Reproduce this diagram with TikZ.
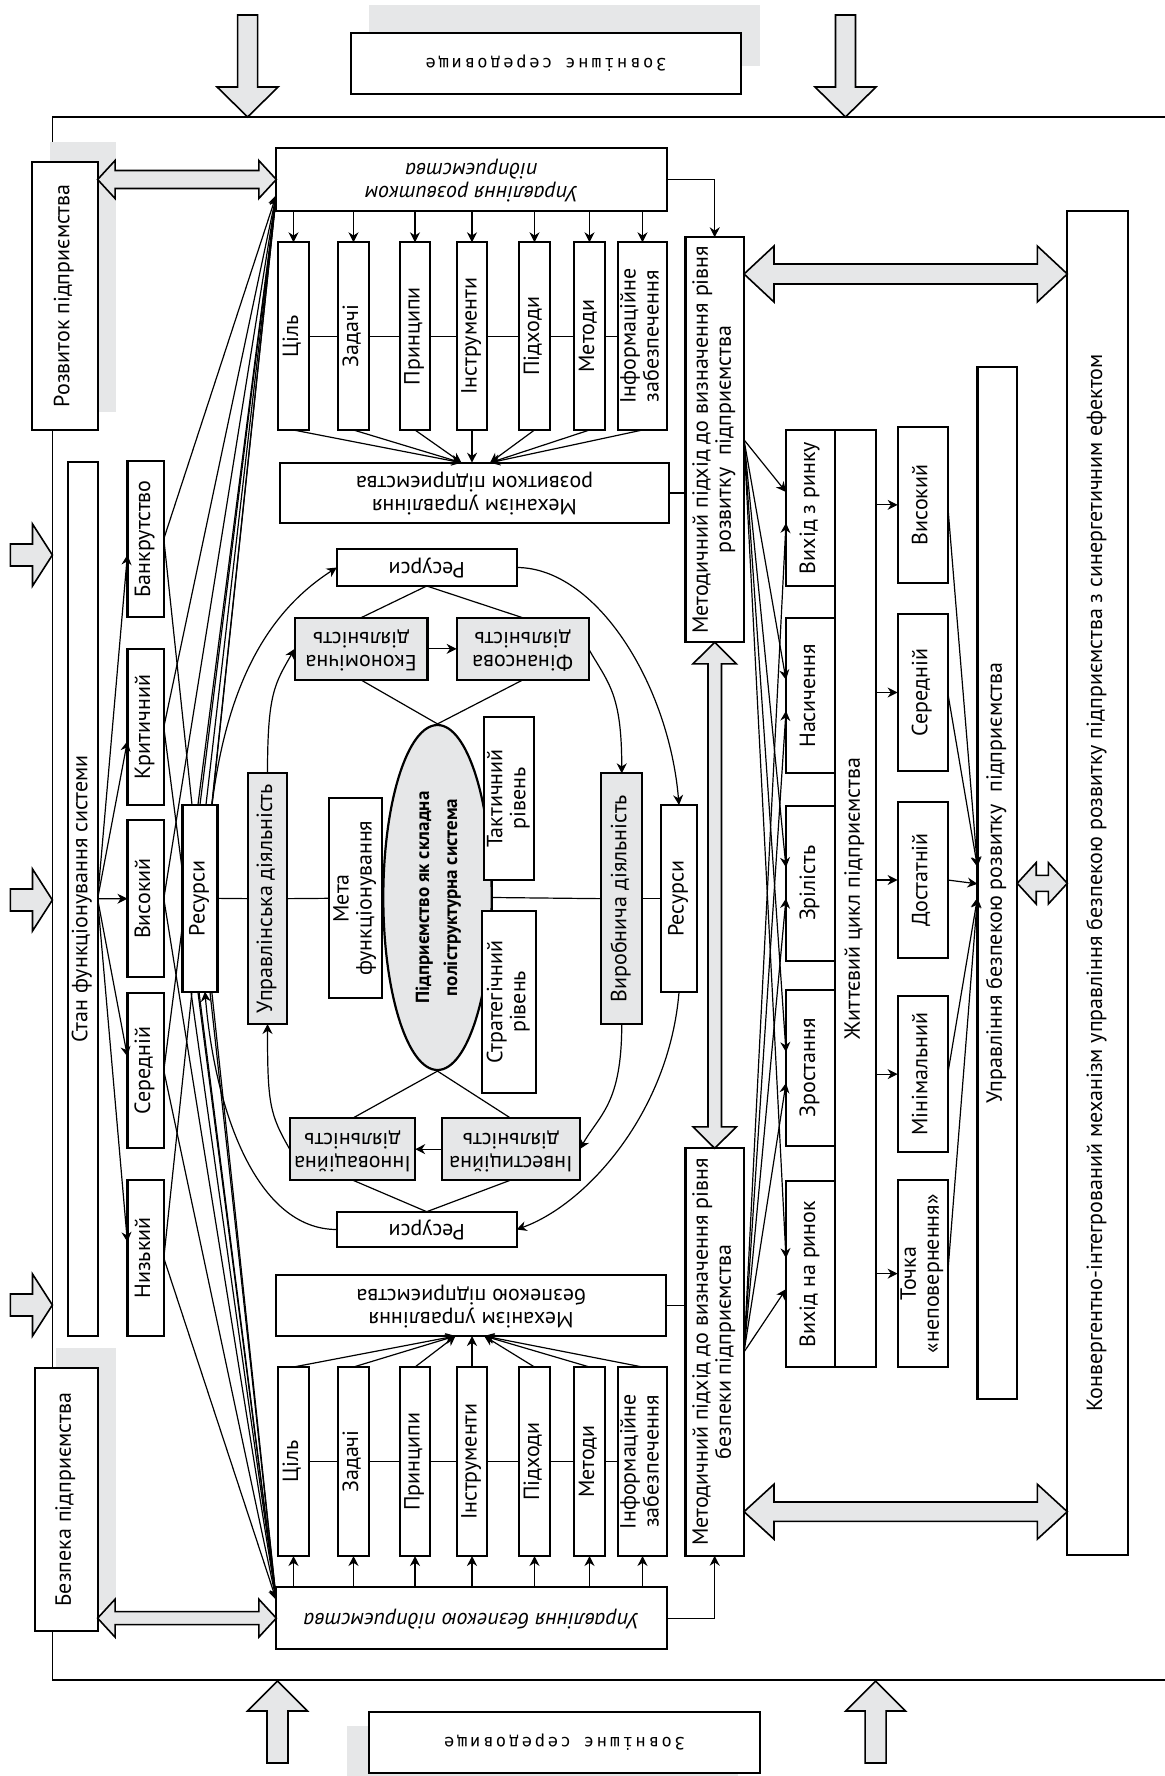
\documentclass[tikz,border=0pt]{standalone}
\usepackage{fontspec}
\setmainfont{PT Sans}
\newfontfamily\envfont[LetterSpace=16]{DejaVu Sans Mono}
\usepackage{graphicx}
\usepackage{tikz}
\usetikzlibrary{
	positioning,
	arrows.meta,
	shapes.geometric,
	calc
}
\definecolor{PanelGray}{RGB}{230,231,232}
\pgfdeclarelayer{background}
\pgfsetlayers{background,main}

\tikzset{
	box/.style={draw, line width=1.1pt, fill=white, inner sep=0pt, outer sep=0pt,
		font=\fontsize{11}{11.5}\selectfont},
	graybox/.style={box, fill=PanelGray},
	italbox/.style={box, font=\fontsize{11}{11.5}\selectfont\itshape},
	core/.style={ellipse, draw, line width=1.1pt, fill=PanelGray, inner sep=0pt,
		minimum width=54.2pt, minimum height=172.5pt,
		font=\fontsize{9.5}{14}\selectfont\bfseries},
	con/.style={line width=0.6pt},
	arr/.style={con, -{Stealth[length=5pt,width=5pt]}},
	bigarrow/.style={draw, line width=0.8pt, fill=PanelGray, line join=miter},
	envline/.style={line width=0.7pt}
}

% rotated cell text
\newcommand{\vtxt}[1]{\rotatebox{90}{\begin{tabular}{@{}c@{}}#1\end{tabular}}}
\newcommand{\utxt}[1]{\rotatebox{180}{\begin{tabular}{@{}c@{}}#1\end{tabular}}}
% box by its corners (in px)
\newcommand{\panel}[7][box]{%
	\node[#1, minimum width={(#5-#3)*0.5pt}, minimum height={(#6-#4)*0.5pt}]
	(#2) at ({(#3+#5)/2},{(#4+#6)/2}) {#7};}
% double block arrows: tips, shaft half, head half, head length
\newcommand{\dblh}[5]{%
	\draw[bigarrow] (#1) -- ++(#5,#4) -- ++(0,#3-#4) -- ($(#2)+(-#5,#3)$)
	-- ++(0,#4-#3) -- (#2) -- ++(-#5,-#4) -- ++(0,#4-#3)
	-- ($(#1)+(#5,-#3)$) -- ++(0,#3-#4) -- cycle;}
\newcommand{\dblv}[5]{%
	\draw[bigarrow] (#1) -- ++(#4,#5) -- ++(#3-#4,0) -- ($(#2)+(#3,-#5)$)
	-- ++(#4-#3,0) -- (#2) -- ++(-#4,-#5) -- ++(#4-#3,0)
	-- ($(#1)+(-#3,#5)$) -- ++(#3-#4,0) -- cycle;}

\begin{document}
\begin{tikzpicture}[x=0.5pt,y=-0.5pt]
	\useasboundingbox (0,0) rectangle (1165,1776);
	
	% Environment
	\fill[PanelGray] (369,5) rectangle (760,66);
	\fill[PanelGray] (347,1726) rectangle (738,1776);
	\panel{envT}{351}{33}{741}{94}{\utxt{\envfont\fontsize{8.5}{10}\selectfont Зовнішнє середовище}}
	\panel{envB}{369}{1712}{760}{1773}{\utxt{\envfont\fontsize{8.5}{10}\selectfont Зовнішнє середовище}}
	
	\foreach \x in {247.6,845.5}
	\draw[bigarrow] (\x-10,15) -- (\x+10,15) -- (\x+10,87) -- (\x+30.5,87)
	-- (\x,117) -- (\x-30.5,87) -- (\x-10,87) -- cycle;
	\foreach \x in {277.5,875.6}
	\draw[bigarrow] (\x-10.5,1763) -- (\x-10.5,1711) -- (\x-30,1711) -- (\x,1681)
	-- (\x+30,1711) -- (\x+10.5,1711) -- (\x+10.5,1763) -- cycle;
	\foreach \y in {555,900,1305}
	\draw[bigarrow] (10.3,\y-11) -- (32.5,\y-11) -- (32.5,\y-31) -- (52.4,\y)
	-- (32.5,\y+31) -- (32.5,\y+11) -- (10.3,\y+11) -- cycle;
	
	\draw[envline] (1165,117) -- (52.4,117) -- (52.4,1680) -- (1165,1680);
	
	% Development and security
	\fill[PanelGray] (49.8,141.7) rectangle (116,411.7);
	\fill[PanelGray] (55.5,1348) rectangle (116,1610);
	\panel{devEnt}{32}{161.7}{97.6}{430}{\vtxt{Розвиток підприємства}}
	\panel{secEnt}{35}{1368}{97.6}{1631}{\vtxt{Безпека підприємства}}
	
	\panel[italbox]{mgmtD}{276.3}{148.3}{667}{210.7}{\utxt{Управління розвитком\\підприємства}}
	\panel[italbox]{mgmtS}{276.3}{1587.3}{667}{1649}{\utxt{Управління безпекою підприємства}}
	
	\foreach \nm/\xa/\xb/\lbl in {goal/278/309/Ціль, task/338/369/Задачі,
		prin/400/430/Принципи, tool/457/487/Інструменти, appr/519/550/Підходи,
		meth/574/605/Методи, info/618/667/{Інформаційне\\забезпечення}} {
		\panel{\nm D}{\xa}{242.3}{\xb}{430}{\vtxt{\lbl}}
		\panel{\nm S}{\xa}{1367}{\xb}{1556}{\vtxt{\lbl}}
	}
	
	\panel{mechD}{280}{462.7}{669}{523.3}{\utxt{Механізм управління\\розвитком підприємства}}
	\panel{mechS}{276.3}{1275}{666}{1336}{\utxt{Механізм управління\\безпекою підприємства}}
	
	\panel{methodD}{685.4}{237.3}{744}{642.3}{\vtxt{Методичний підхід до визначення рівня\\розвитку\ \ підприємства}}
	\panel{methodS}{685.4}{1148.3}{744}{1555.7}{\vtxt{Методичний підхід до визначення рівня\\безпеки підприємства}}
	
	% State of the system
	\panel{state}{68.1}{461.7}{97.6}{1336}{\vtxt{Стан функціонування системи}}
	\panel{bankr}{127.4}{461}{163.8}{616.7}{\vtxt{Банкрутство}}
	\panel{crit}{127.4}{649.3}{163.8}{805}{\vtxt{Критичний}}
	\panel{high}{127.4}{820}{163.8}{977.3}{\vtxt{Високий}}
	\panel{mid}{127.4}{992.7}{163.8}{1148.3}{\vtxt{Середній}}
	\panel{low}{127.4}{1180}{163.8}{1336}{\vtxt{Низький}}
	
	% Enterprise core
	\panel{resL}{182.5}{805}{217.4}{991.7}{\vtxt{Ресурси}}
	\panel{resT}{336.8}{549}{516.6}{586}{\utxt{Ресурси}}
	\panel{resB}{336.8}{1211.7}{516.6}{1247.3}{\utxt{Ресурси}}
	\panel{resR}{661}{805}{697}{992.3}{\vtxt{Ресурси}}
	
	\panel[graybox]{mgmtAct}{248}{773.3}{287}{1024}{\vtxt{Управлінська діяльність}}
	\panel[graybox]{econ}{294.7}{617.7}{427.5}{680}{\utxt{Економічна\\діяльність}}
	\panel[graybox]{fin}{456.6}{617.7}{588.6}{680}{\utxt{Фінансова\\діяльність}}
	\panel[graybox]{prod}{601.3}{773.3}{642.2}{1024}{\vtxt{Виробнича діяльність}}
	\panel[graybox]{invest}{442}{1118.3}{579.8}{1180}{\utxt{Інвестиційна\\діяльність}}
	\panel[graybox]{innov}{289.7}{1118.3}{415.2}{1180}{\utxt{Інноваційна\\діяльність}}
	
	\node[core] (core) at (437.5,897.5) {\vtxt{Підприємство як складна\\поліструктурна система}};
	\panel{goalF}{329.3}{798.3}{381.7}{998.3}{\vtxt{Мета\\функціонування}}
	\panel{tact}{484.3}{717.3}{534.3}{880}{\vtxt{Тактичний\\рівень}}
	\panel{strat}{482.3}{911}{536}{1092.7}{\vtxt{Стратегічний\\рівень}}
	
	% Life cycle and levels
	\panel{exitM}{786}{430}{835}{586}{\vtxt{Вихід з ринку}}
	\panel{satur}{786}{618.3}{835}{773.3}{\vtxt{Насичення}}
	\panel{matur}{786}{805.7}{835}{961}{\vtxt{Зрілість}}
	\panel{growth}{786}{990}{835}{1146}{\vtxt{Зростання}}
	\panel{entry}{786}{1181}{835}{1367.3}{\vtxt{Вихід на ринок}}
	\panel{cycle}{835}{430}{875.6}{1367.3}{\vtxt{Життєвий цикл підприємства}}
	
	\panel{lvHigh}{897.6}{427}{947.7}{582.7}{\vtxt{Високий}}
	\panel{lvMid}{897.6}{614.3}{947.7}{770.7}{\vtxt{Середній}}
	\panel{lvEnough}{897.6}{801.7}{947.7}{958.3}{\vtxt{Достатній}}
	\panel{lvMin}{897.6}{996}{947.7}{1152.3}{\vtxt{Мінімальний}}
	\panel{lvPoint}{897.6}{1180}{947.7}{1367.3}{\vtxt{Точка\\«неповернення»}}
	
	\panel{secDev}{977.4}{366.7}{1017.2}{1399}{\vtxt{Управління безпекою розвитку\ \ підприємства}}
	\panel{conv}{1067.3}{210.7}{1127.9}{1555}{\vtxt{Конвергентно-інтегрований механізм управління безпекою розвитку підприємства з синергетичним ефектом}}
	
	% Block arrows between boxes
	\coordinate (tipDev) at (devEnt.east |- mgmtD.west);
	\coordinate (tipSec) at (secEnt.east |- mgmtS.west);
	\dblh{tipDev}{mgmtD.west}{9}{19}{17.5}
	\dblh{tipSec}{mgmtS.west}{6.5}{19}{17.5}
	\dblv{methodD.south}{methodS.north}{6.75}{21.7}{21.5}
	
	\coordinate (yTop) at (0,274);
	\coordinate (yBot) at (0,1511.7);
	\coordinate (yMid) at (0,883.3);
	\coordinate (tipA) at (methodD.east |- yTop);
	\coordinate (tipB) at (conv.west |- yTop);
	\coordinate (tipC) at (methodS.east |- yBot);
	\coordinate (tipD) at (conv.west |- yBot);
	\coordinate (tipE) at (secDev.east |- yMid);
	\coordinate (tipF) at (conv.west |- yMid);
	\dblh{tipA}{tipB}{10}{28}{30}
	\dblh{tipC}{tipD}{9.7}{27.5}{30}
	\dblh{tipE}{tipF}{8}{20.7}{19}
	
	% Connections: management blocks
	\foreach \nm in {goal,task,prin,tool,appr,meth,info} {
		\draw[arr] (mgmtD.south -| \nm D.north) -- (\nm D.north);
		\draw[arr] (mgmtS.north -| \nm S.south) -- (\nm S.south);
	}
	\foreach \a/\b in {goal/task,task/prin,prin/tool,tool/appr,appr/meth,meth/info} {
		\draw[con] (\a D.east) -- (\b D.west);
		\draw[con] (\a S.east) -- (\b S.west);
	}
	
	\coordinate (mD1) at ($(mechD.north)+(-13,0)$);
	\coordinate (mD2) at ($(mechD.north)+(15.5,0)$);
	\coordinate (mS1) at ($(mechS.south)+(-15.6,0)$);
	\coordinate (mS2) at ($(mechS.south)+(13,0)$);
	\foreach \nm in {goal,task,prin} {
		\draw[arr] (\nm D.south) -- (mD1);
		\draw[arr] (\nm S.north) -- (mS1);
	}
	\foreach \nm in {appr,meth,info} {
		\draw[arr] (\nm D.south) -- (mD2);
		\draw[arr] (\nm S.north) -- (mS2);
	}
	\draw[arr] (toolD.south) -- (toolD.south |- mechD.north);
	\draw[arr] (toolS.north) -- (toolS.north |- mechS.south);
	
	\draw[arr] (mgmtD.east) -| (methodD.north);
	\draw[arr] (mgmtS.east) -| (methodS.south);
	\draw[con] (mechD.east) -- (mechD.east -| methodD.west);
	\draw[con] (mechS.east) -- (mechS.east -| methodS.west);
	
	% Connections: state of the system
	\draw[arr] (state.east) -- ($(bankr.west)+(0,16)$);
	\draw[arr] (state.east) -- ($(crit.west)+(0,14)$);
	\draw[arr] (state.east) -- (high.west);
	\draw[arr] (state.east) -- ($(mid.west)+(0,-14)$);
	\draw[arr] (state.east) -- ($(low.west)+(0,-16)$);
	
	\coordinate (hubD) at ($(mgmtD.south west)+(0,-15.7)$);
	\coordinate (hubS) at ($(mgmtS.north west)+(0,12.7)$);
	\begin{pgfonlayer}{background}
		\foreach \s in {bankr,crit,high,mid,low} {
			\draw[arr] (\s.east) -- (hubD);
			\draw[arr] (\s.east) -- (hubS);
		}
		\foreach \d in {0,6,12}
		\draw[arr] ($(resL.north)+(\d,0)$) -- (hubD);
		\foreach \d in {-9,-1,10}
		\draw[arr] ($(resL.south)+(\d,0)$) -- (hubS);
	\end{pgfonlayer}
	
	% Connections: enterprise core
	\draw[con] (resL.east) -- (mgmtAct.west);
	\draw[con] (mgmtAct.east) -- (goalF.west);
	\draw[con] (core.east) -- (prod.west);
	\draw[con] (prod.east) -- (resR.west);
	\draw[con] (tact.south -| core.east) -- (strat.north -| core.east);
	
	\draw[con] (econ.north) -- (resT.south) -- (fin.north);
	\draw[con] (econ.south) -- (core.north) -- (fin.south);
	\draw[con] (innov.north) -- (core.south) -- (invest.north);
	\draw[con] (innov.south) -- (resB.north) -- (invest.south);
	\draw[arr] (econ.east) -- (fin.west);
	\draw[arr] (invest.west) -- (innov.east);
	
	\draw[arr] ($(resL.north)+(12,0)$) .. controls +(15,-120) and +(-70,45) .. (resT.west);
	\draw[arr] (resT.east) .. controls +(80,0) and +(-10,-120) .. (resR.north);
	\draw[arr] (resR.south) .. controls +(-10,120) and +(70,-25) .. (resB.east);
	\draw[arr] (resB.west) .. controls +(-80,0) and +(10,120) .. ($(resL.south)+(5,0)$);
	\draw[arr] (mgmtAct.north) .. controls +(0,-80) and +(-20,35) .. (econ.west);
	\draw[arr] (fin.east) .. controls +(20,35) and +(0,-80) .. (prod.north);
	\draw[arr] (prod.south) .. controls +(0,80) and +(20,-35) .. (invest.east);
	\draw[arr] (innov.west) .. controls +(-20,-35) and +(0,80) .. (mgmtAct.south);
	
	% Connections: life cycle and levels
	\foreach \s in {exitM,satur,matur,growth,entry} {
		\draw[arr] (methodD.east) -- ($(\s.west)+(0,-16)$);
		\draw[arr] (methodS.east) -- ($(\s.west)+(0,15)$);
	}
	\foreach \s in {lvHigh,lvMid,lvEnough,lvMin,lvPoint}
	\draw[arr] (\s.west -| cycle.east) -- (\s.west);
	\draw[arr] (lvHigh.east) -- ($(secDev.west)+(0,-16)$);
	\draw[arr] (lvMid.east) -- ($(secDev.west)+(0,-16)$);
	\draw[arr] (lvEnough.east) -- ($(secDev.west)+(0,1)$);
	\draw[arr] (lvMin.east) -- ($(secDev.west)+(0,15)$);
	\draw[arr] (lvPoint.east) -- ($(secDev.west)+(0,15)$);
	
\end{tikzpicture}
\end{document}
